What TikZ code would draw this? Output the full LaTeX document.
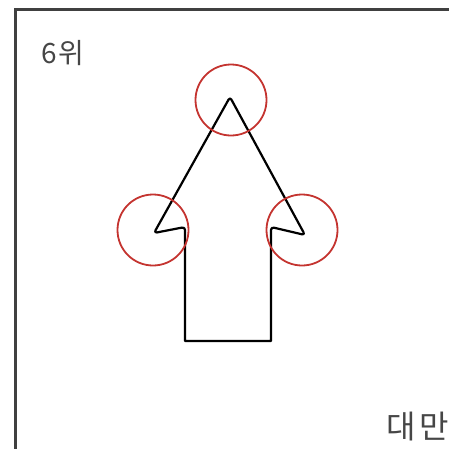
\documentclass[tikz,border=0pt]{standalone}
\usepackage{fontspec}
\newfontfamily\kr{Noto Sans CJK KR}
\usepackage{tikz}
\usetikzlibrary{positioning,calc}

\definecolor{markred}{RGB}{196,52,48}
\definecolor{textgray}{RGB}{70,70,70}

\begin{document}
\begin{tikzpicture}[x=1pt,y=-1pt,
  mark circle/.style={draw=markred,line width=1.8pt,circle,minimum size=71pt,inner sep=0pt},
  label text/.style={text=textgray,inner sep=0pt},
  outline/.style={line width=2.2pt,line join=round}]
  \useasboundingbox (0,0) rectangle (449,448);
  \clip (0,0) rectangle (449,448);
  % frame (cut off at the right and bottom)
  \draw[line width=2.2pt,black!75] (15.5,470) -- (15.5,9.5) -- (470,9.5);
  % arrow outline
  \coordinate (tip) at (230,97);
  \coordinate (lbarb) at (154,233);
  \coordinate (lnotch) at (185,227);
  \coordinate (rnotch) at (271,227);
  \coordinate (rbarb) at (305,235);
  \coordinate (lfoot) at (185,341);
  \coordinate (rfoot) at (271,341);
  \draw[outline] (lfoot) -- (rfoot) [rounded corners=3pt] -- (rnotch) -- (rbarb)
    -- (tip) -- (lbarb) -- (lnotch) [sharp corners] -- cycle;
  % red markers
  \node[mark circle] (ctop) at (231,100) {};
  \node[mark circle] (cleft) at (153,230) {};
  \node[mark circle] (cright) at (302,230) {};
  % labels
  \node[label text,anchor=base west,font=\kr\fontsize{28}{28}\selectfont] (rank) at (41,63) {6\hspace{2pt}위};
  \node[label text,anchor=base west,font=\kr\fontsize{32}{32}\selectfont] (place) at (386,438) {대\hspace{4pt}만};
\end{tikzpicture}
\end{document}
